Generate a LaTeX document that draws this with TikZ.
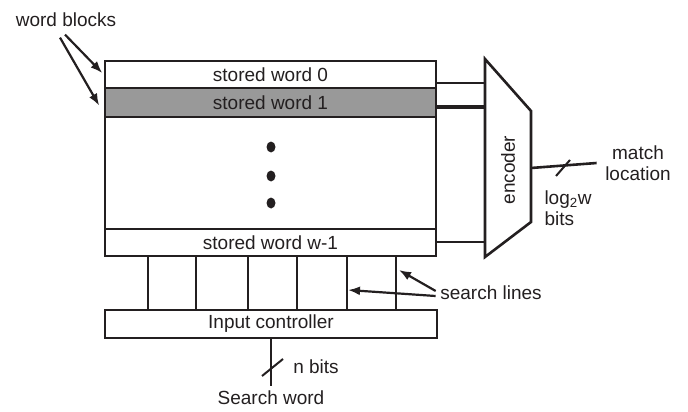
\documentclass[tikz,border=0pt]{standalone}
\usepackage{fontspec}
\setmainfont{Liberation Sans}
\usetikzlibrary{positioning, arrows.meta}
\definecolor{ink}{RGB}{35,31,32}
\definecolor{midgray}{RGB}{153,153,153}

\begin{document}
\begin{tikzpicture}[x=1pt,y=-1pt,line width=2.6pt,color=ink,
    font=\fontsize{19}{21}\selectfont,
    word/.style={draw,minimum width=331pt,minimum height=27pt,inner sep=0pt},
    pointer/.style={-{Latex[length=12pt,width=9pt]},line width=2.2pt},
    busmark/.style={line width=2pt}]
  \useasboundingbox (0,0) rectangle (688,412);
  % memory array
  \node[word,minimum height=195pt] (cam) at (270.5,158.5) {};
  \node[word] (w_0) at (270.5,74.5) {stored word 0};
  \node[word,fill=midgray,minimum height=29pt] (w_1) at (270.5,102.5) {stored word 1};
  \node[word] (w_n) at (270.5,242.5) {stored word w-1};
  \foreach \y in {147,176,203}
    \fill (271,\y) ellipse (4.5pt and 5.5pt);
  % encoder
  \coordinate (enc_nw) at (485,59);
  \coordinate (enc_ne) at (531,111);
  \coordinate (enc_se) at (531,222);
  \coordinate (enc_sw) at (485,257);
  \draw[line join=miter] (enc_nw) -- (enc_ne) -- (enc_se) -- (enc_sw) -- cycle;
  \node[rotate=90] (enc) at (508,170) {encoder};
  \coordinate (e_0) at (485,83);
  \coordinate (e_1) at (485,107);
  \coordinate (e_n) at (485,242);
  \coordinate (e_out) at (531,168);
  \draw (e_0 -| w_0.east) -- (e_0);
  \draw[line width=4.5pt] (e_1 -| w_1.east) -- (e_1);
  \draw (e_n -| w_n.east) -- (e_n);
  % input side
  \node[word,minimum width=332pt,minimum height=28pt] (ctrl) at (271,324) {Input controller};
  \foreach \x in {148,196,248,297,347,396}
    \draw (w_n.south -| \x,0) -- (ctrl.north -| \x,0);
  % labels
  \node (blocks) at (66,20) {word blocks};
  \node (slines) at (491,293) {search lines};
  \node[align=center] (match) at (638,163) {match\\location};
  \node[align=left] (bits) at (568,208) {log\textsubscript{2}w\\bits};
  \node (nbits) at (316,367) {n bits};
  \node (sword) at (271,398) {Search word};
  % connectors
  \draw (e_out) -- ([xshift=-4pt]match.west);
  \draw[busmark] (563,168) ++(-7,8) -- ++(14,-16);
  \draw (ctrl.south) -- (sword.north);
  \draw[busmark] (272,367) ++(-10,9) -- ++(21,-17);
  \coordinate (hit_a) at (399,270);
  \coordinate (hit_b) at (348,290);
  \path[pointer]
    ([xshift=-1pt,yshift=-3pt]blocks.south) edge[shorten >=2pt] (w_0.west)
    ([xshift=-6pt,yshift=-6pt]blocks.south) edge[shorten >=1pt] ([xshift=-4pt,yshift=-4pt]w_1.west)
    ([yshift=2pt]slines.west) edge (hit_a)
    ([yshift=-3pt]slines.west) edge (hit_b);
\end{tikzpicture}
\end{document}
